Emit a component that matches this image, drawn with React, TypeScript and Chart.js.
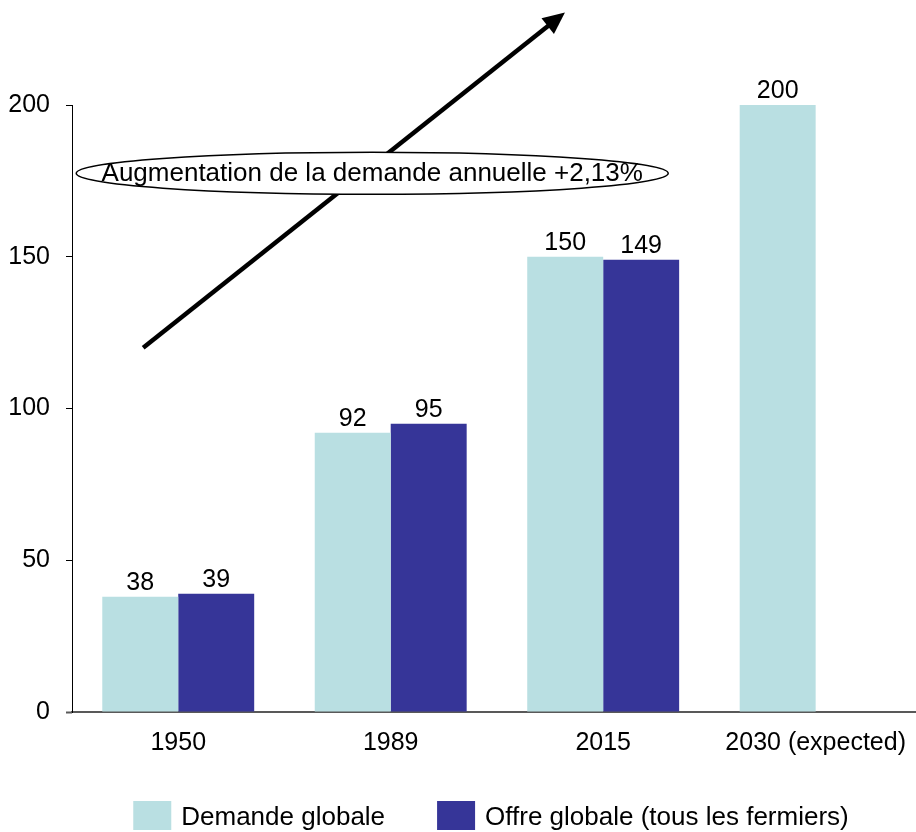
import React, { useEffect, useRef } from "react";
import { Chart, registerables } from "chart.js";

Chart.register(...registerables);

// ---- data ----
const categories = ["1950", "1989", "2015", "2030 (expected)"];
const demandeGlobale = [38, 92, 150, 200];
const offreGlobale = [39, 95, 149, null];
const yTickValues = [0, 50, 100, 150, 200];
const seriesLabels = ["Demande globale", "Offre globale (tous les fermiers)"];
const annotationText = "Augmentation de la demande annuelle +2,13%";
// annotation anchors in data space: [category index, value]
const arrowFrom = [-0.165, 120];
const arrowTo = [1.82, 230.5];
const ellipseCenter = [0.913, 177.5];

const FONT = '"Liberation Sans", Arial, sans-serif';
const LIGHT = "#B9DFE2";
const DARK = "#363598";

const valueLabels = {
  id: "valueLabels",
  afterDatasetsDraw(chart: any) {
    const ctx = chart.ctx;
    ctx.save();
    ctx.font = `25px ${FONT}`;
    ctx.fillStyle = "#000";
    ctx.textAlign = "center";
    ctx.textBaseline = "alphabetic";
    chart.data.datasets.forEach((ds: any, i: number) => {
      const meta = chart.getDatasetMeta(i);
      meta.data.forEach((el: any, j: number) => {
        const v = ds.data[j];
        if (v == null) return;
        ctx.fillText(String(v), el.x, el.y - 7);
      });
    });
    ctx.restore();
  },
};

const annotation = {
  id: "annotation",
  afterDraw(chart: any) {
    const ctx = chart.ctx;
    const xs = chart.scales.x;
    const ys = chart.scales.y;
    const x1 = xs.getPixelForValue(arrowFrom[0]);
    const y1 = ys.getPixelForValue(arrowFrom[1]);
    const x2 = xs.getPixelForValue(arrowTo[0]);
    const y2 = ys.getPixelForValue(arrowTo[1]);
    const ang = Math.atan2(y2 - y1, x2 - x1);
    const headLen = 22;
    const headW = 10;
    ctx.save();
    ctx.strokeStyle = "#000";
    ctx.fillStyle = "#000";
    ctx.lineWidth = 4.5;
    ctx.beginPath();
    ctx.moveTo(x1, y1);
    ctx.lineTo(x2 - Math.cos(ang) * headLen * 0.8, y2 - Math.sin(ang) * headLen * 0.8);
    ctx.stroke();
    ctx.beginPath();
    ctx.moveTo(x2, y2);
    ctx.lineTo(
      x2 - Math.cos(ang) * headLen - Math.sin(ang) * headW,
      y2 - Math.sin(ang) * headLen + Math.cos(ang) * headW
    );
    ctx.lineTo(
      x2 - Math.cos(ang) * headLen + Math.sin(ang) * headW,
      y2 - Math.sin(ang) * headLen - Math.cos(ang) * headW
    );
    ctx.closePath();
    ctx.fill();

    const cx = xs.getPixelForValue(ellipseCenter[0]);
    const cy = ys.getPixelForValue(ellipseCenter[1]);
    ctx.beginPath();
    ctx.ellipse(cx, cy, 296, 21, 0, 0, Math.PI * 2);
    ctx.fillStyle = "#fff";
    ctx.fill();
    ctx.lineWidth = 1.5;
    ctx.strokeStyle = "#000";
    ctx.stroke();
    ctx.fillStyle = "#000";
    ctx.font = `26px ${FONT}`;
    ctx.textAlign = "center";
    ctx.textBaseline = "middle";
    ctx.fillText(annotationText, cx, cy + 1);
    ctx.restore();
  },
};

const axisExtension = {
  id: "axisExtension",
  afterDraw(chart: any) {
    const ctx = chart.ctx;
    const area = chart.chartArea;
    ctx.save();
    ctx.strokeStyle = "#595959";
    ctx.lineWidth = 2;
    ctx.beginPath();
    ctx.moveTo(area.left - 6, area.bottom + 0.5);
    ctx.lineTo(area.left, area.bottom + 0.5);
    ctx.stroke();
    ctx.restore();
  },
};

const customLegend = {
  id: "customLegend",
  afterDraw(chart: any) {
    const ctx = chart.ctx;
    ctx.save();
    ctx.font = `26px ${FONT}`;
    const boxW = 38;
    const boxH = 29;
    const gap = 10;
    const itemGap = 52;
    const items = chart.data.datasets.map((ds: any) => ({
      label: ds.label,
      color: ds.backgroundColor,
      w: ctx.measureText(ds.label).width,
    }));
    const total =
      items.reduce((s: number, it: any) => s + boxW + gap + it.w, 0) + itemGap * (items.length - 1);
    let x = 491 - total / 2;
    const top = 801;
    items.forEach((it: any) => {
      ctx.fillStyle = it.color;
      ctx.fillRect(x, top, boxW, boxH);
      x += boxW + gap;
      ctx.fillStyle = "#000";
      ctx.textAlign = "left";
      ctx.textBaseline = "middle";
      ctx.fillText(it.label, x, top + boxH / 2 + 2);
      x += it.w + itemGap;
    });
    ctx.restore();
  },
};

export default function App() {
  const ref = useRef<HTMLCanvasElement | null>(null);
  useEffect(() => {
    if (!ref.current) return;
    const chart = new Chart(ref.current, {
      type: "bar",
      data: {
        labels: categories,
        datasets: [
          { label: seriesLabels[0], data: demandeGlobale, backgroundColor: LIGHT },
          { label: seriesLabels[1], data: offreGlobale as any, backgroundColor: DARK },
        ],
      },
      options: {
        responsive: false,
        animation: false,
        layout: { padding: { top: 105, left: 0, right: 0, bottom: 0 } },
        plugins: {
          legend: { display: false },
          tooltip: { enabled: false },
        },
        datasets: { bar: { categoryPercentage: 0.715, barPercentage: 1 } },
        scales: {
          x: {
            grid: { display: false, drawTicks: false },
            border: { display: true, color: "#595959", width: 2 },
            ticks: {
              color: "#000",
              font: { family: FONT, size: 25 },
              padding: 16,
              maxRotation: 0,
              autoSkip: false,
            },
            afterFit(scale: any) {
              scale.height = 120;
            },
          },
          y: {
            min: 0,
            max: 200,
            afterBuildTicks(scale: any) {
              scale.ticks = yTickValues.map((v) => ({ value: v }));
            },
            grid: {
              display: true,
              drawOnChartArea: false,
              drawTicks: true,
              tickLength: 6,
              color: "#000",
            },
            border: { display: true, color: "#000", width: 1 },
            ticks: {
              color: "#000",
              font: { family: FONT, size: 25 },
              padding: 16,
            },
            afterFit(scale: any) {
              scale.width = 72;
            },
          },
        },
      },
      plugins: [valueLabels, annotation, axisExtension, customLegend],
    });
    return () => chart.destroy();
  }, []);
  return (
    <div
      style={{
        position: "absolute",
        left: 0,
        top: 0,
        width: 916,
        height: 832,
        overflow: "hidden",
        background: "#fff",
      }}
    >
      <canvas ref={ref} width={922} height={832} style={{ display: "block" }} />
    </div>
  );
}
